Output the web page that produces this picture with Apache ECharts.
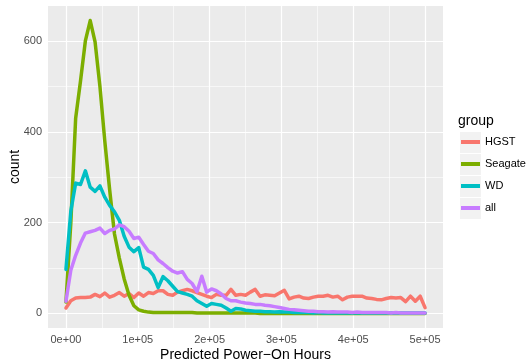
<!DOCTYPE html>
<html><head><meta charset="utf-8">
<script src="https://cdn.jsdelivr.net/npm/echarts@6/dist/echarts.min.js"></script>
<style>html,body{margin:0;padding:0;background:#fff}#c{width:528px;height:360px}</style>
</head><body><div id="c"></div>
<script>
const groups = ['HGST', 'Seagate', 'WD', 'all'];
const groupColors = ['#F8766D', '#7CAE00', '#00BFC4', '#C77CFF'];
// bin centres of the frequency polygon (75 bins from 0 to 5e5)
const binCenters = Array.from({length: 75}, (_, i) => i * 500000 / 74);

const hgst = [12,28,34,35,35,36,42,37,45,36, 40,46,38,44,35,45,38,46,44,50, 50,42,40,47,50,53,50,46,42,38,
  35,42,40,40,53,40,42,40,47,53, 38,41,40,39,45,51,32,36,38,34, 33,36,38,38,40,36,38,30,36,38,
  38,38,34,33,31,30,33,35,34,35, 26,38,27,38,13];
const seagate = [25,199,430,512,600,645,598,500,380,273, 175,122,76,40,17,8,5,3,2,2, 2,2,2,2,2,2,2,1,1,1,
  1,1,1,1,1,1,1,1,1,1, 0,0,0,0,0,0,0,0,0,0, 0,0,0,0,0,0,0,0,0,0, 0,0,0,0,0,0,0,0,0,0, 0,0,0,0,0];
const wd = [97,225,287,284,314,278,269,281,256,238, 224,205,170,146,136,145,102,97,84,57, 81,72,60,48,45,42,38,28,22,16,
  22,20,18,12,5,11,10,7,6,5, 5,4,4,3,4,3,3,2,2,2, 2,1,2,1,1,1,1,1,1,1, 1,1,1,1,1,1,1,1,1,1, 1,1,1,1,1];
const all = [27,95,128,155,177,180,183,188,176,183, 186,195,191,181,165,168,152,137,132,118, 110,101,93,89,92,75,66,48,82,47,
  54,50,43,33,28,28,25,23,22,20, 20,18,17,15,13,11,9,8,7,6, 5,5,4,4,3,4,3,3,3,2, 3,2,2,2,2,2,2,1,2,1, 1,1,1,1,1];
const seriesValues = [hgst, seagate, wd, all];

const xTicks = [0, 100000, 200000, 300000, 400000, 500000];
const xTickLabels = ['0e+00', '1e+05', '2e+05', '3e+05', '4e+05', '5e+05'];
const xMinor = [50000, 150000, 250000, 350000, 450000];
const yTicks = [0, 200, 400, 600];
const yTickLabels = ['0', '200', '400', '600'];
const yMinor = [100, 300, 500];

const FONT = '"Liberation Sans", Arial, Helvetica, sans-serif';

const chart = echarts.init(document.getElementById('c'), null, {renderer: 'canvas'});

const gridLines = [].concat(
  xMinor.map(v => ({xAxis: v, lineStyle: {width: 0.6}})),
  yMinor.map(v => ({yAxis: v, lineStyle: {width: 0.6}})),
  xTicks.map(v => ({xAxis: v, lineStyle: {width: 1.2}})),
  yTicks.map(v => ({yAxis: v, lineStyle: {width: 1.2}}))
);

const series = [{
  type: 'line', name: '__grid', data: [], silent: true, z: 1,
  markLine: {
    silent: true, z: 1, symbol: ['none', 'none'], animation: false,
    label: {show: false}, emphasis: {disabled: true},
    lineStyle: {color: '#FFFFFF', type: 'solid'},
    data: gridLines
  }
}].concat(groups.map((g, i) => ({
  type: 'line', name: g, z: 3,
  data: binCenters.map((x, j) => [x, seriesValues[i][j]]),
  showSymbol: false, symbol: 'none',
  lineStyle: {color: groupColors[i], width: 3.5, join: 'round', cap: 'round'},
  itemStyle: {color: groupColors[i]},
  emphasis: {disabled: true}
})));

chart.setOption({
  animation: false,
  textStyle: {fontFamily: FONT},
  grid: {left: 48, right: 85, top: 6, bottom: 32, show: true, backgroundColor: '#EBEBEB', borderWidth: 0,
    containLabel: false, outerBoundsMode: 'none'},
  title: {text: 'group', left: 458, top: 114, padding: 0,
    textStyle: {fontSize: 14, fontWeight: 'normal', color: '#000', fontFamily: FONT}},
  legend: {
    data: groups, orient: 'vertical', left: 456, top: 128, icon: 'rect',
    itemWidth: 19, itemHeight: 4, itemGap: 4, selectedMode: false,
    textStyle: {fontSize: 11, lineHeight: 18, color: '#000', fontFamily: FONT}
  },
  graphic: groups.map((g, i) => ({
    type: 'rect', left: 460, top: 132 + 22 * i, z: 0, silent: true,
    shape: {width: 21, height: 21}, style: {fill: '#F2F2F2'}
  })),
  xAxis: {
    type: 'value', min: -25000, max: 525000,
    name: 'Predicted Power\u2212On Hours', nameLocation: 'middle', nameGap: 20, nameMoveOverlap: false,
    nameTextStyle: {fontSize: 14, color: '#000', fontFamily: FONT},
    axisLine: {show: false},
    axisTick: {show: true, length: 3, customValues: xTicks, lineStyle: {color: '#333333', width: 1}},
    axisLabel: {show: true, customValues: xTicks, margin: 6, fontSize: 11, color: '#4D4D4D', fontFamily: FONT,
      formatter: v => xTickLabels[xTicks.indexOf(v)]},
    splitLine: {show: false}, minorSplitLine: {show: false}
  },
  yAxis: {
    type: 'value', min: -32, max: 677,
    name: 'count', nameLocation: 'middle', nameGap: 26, nameRotate: 90, nameMoveOverlap: false,
    nameTextStyle: {fontSize: 14, color: '#000', fontFamily: FONT},
    axisLine: {show: false},
    axisTick: {show: true, length: 3, customValues: yTicks, lineStyle: {color: '#333333', width: 1}},
    axisLabel: {show: true, customValues: yTicks, margin: 6, fontSize: 11, color: '#4D4D4D', fontFamily: FONT,
      formatter: v => yTickLabels[yTicks.indexOf(v)]},
    splitLine: {show: false}, minorSplitLine: {show: false}
  },
  series: series
});
</script>
</body></html>
